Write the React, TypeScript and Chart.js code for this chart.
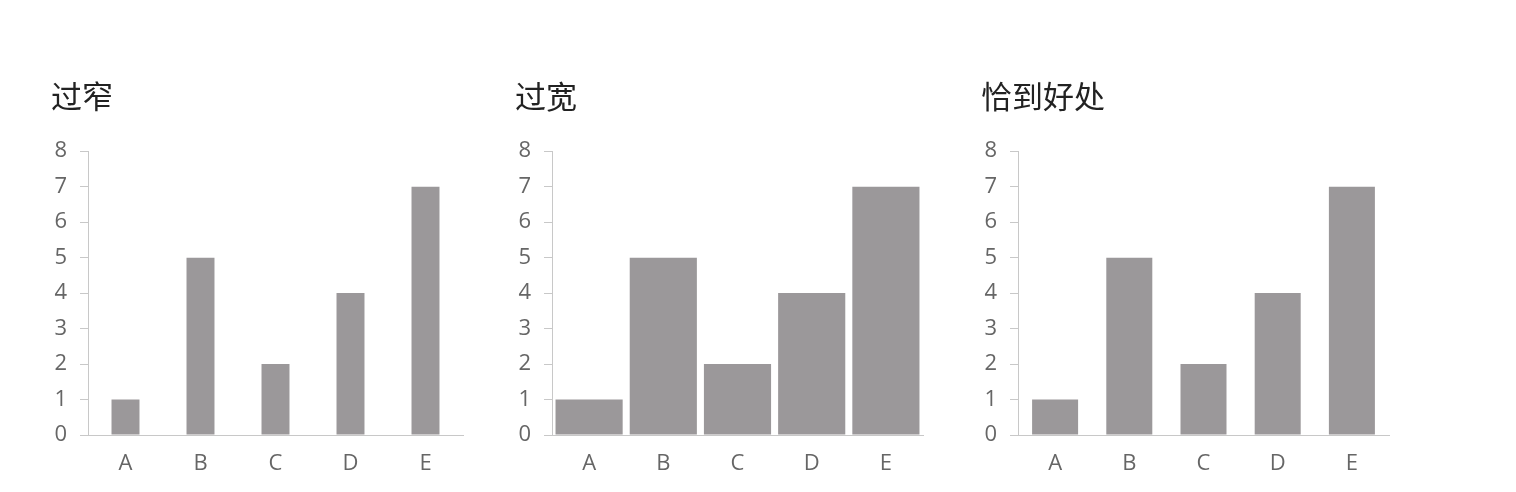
import React, { useEffect, useRef } from "react";
import { Chart, registerables } from "chart.js";

Chart.register(...registerables);

const categories = ["A", "B", "C", "D", "E"];
const values = [1, 5, 2, 4, 7];
const titles = ["过窄", "过宽", "恰到好处"];
const barPercentages = [0.373, 0.905, 0.62];
const yTicks = [0, 1, 2, 3, 4, 5, 6, 7, 8];

const BAR_COLOR = "#9b989a";
const AXIS_COLOR = "#c8c8c8";
const LABEL_COLOR = "#666666";
const TITLE_COLOR = "#222222";

type PanelProps = {
  title: string;
  barPct: number;
  left: number;
  rightPad: number;
};

function Panel({ title, barPct, left, rightPad }: PanelProps) {
  const ref = useRef<HTMLCanvasElement | null>(null);
  useEffect(() => {
    if (!ref.current) return;
    const tickFont = { family: '"Open Sans", "DejaVu Sans", sans-serif', size: 22 };
    const chart = new Chart(ref.current, {
      type: "bar",
      data: {
        labels: categories,
        datasets: [
          {
            data: values,
            backgroundColor: BAR_COLOR,
            barPercentage: barPct,
            categoryPercentage: 1,
          },
        ],
      },
      options: {
        animation: false,
        responsive: false,
        maintainAspectRatio: false,
        layout: { padding: { left: 10, right: rightPad, top: 0, bottom: 0 } },
        plugins: {
          legend: { display: false },
          tooltip: { enabled: false },
          title: {
            display: true,
            text: title,
            align: "start",
            color: TITLE_COLOR,
            font: { family: '"Noto Sans CJK SC", sans-serif', size: 31, weight: "normal" },
            padding: { top: 8, bottom: 36 },
          },
        },
        scales: {
          x: {
            grid: { display: false, drawTicks: false },
            border: { display: true, color: AXIS_COLOR, width: 1 },
            ticks: { color: LABEL_COLOR, font: tickFont, padding: 16 },
            afterFit: (s: any) => {
              s.height = 55;
            },
          },
          y: {
            min: yTicks[0],
            max: yTicks[yTicks.length - 1],
            afterBuildTicks: (s: any) => {
              s.ticks = yTicks.map((v) => ({ value: v }));
            },
            ticks: { stepSize: 1, color: LABEL_COLOR, font: tickFont, padding: 13 },
            grid: { drawOnChartArea: false, drawTicks: true, tickLength: 8, color: AXIS_COLOR },
            border: { display: true, color: AXIS_COLOR, width: 1 },
            afterFit: (s: any) => {
              s.width = 37;
            },
          },
        },
      } as any,
    });
    return () => chart.destroy();
  }, [title, barPct, rightPad]);
  return (
    <canvas
      ref={ref}
      width={440}
      height={420}
      style={{ position: "absolute", left, top: 70, width: 440, height: 420, display: "block" }}
    />
  );
}

export default function App() {
  const lefts = [41, 505, 971];
  const rightPads = [18, 22, 22];
  return (
    <div
      style={{
        position: "fixed",
        left: 0,
        top: 0,
        width: 1516,
        height: 492,
        background: "#ffffff",
        overflow: "hidden",
      }}
    >
      {titles.map((t, i) => (
        <Panel key={t} title={t} barPct={barPercentages[i]} left={lefts[i]} rightPad={rightPads[i]} />
      ))}
    </div>
  );
}
